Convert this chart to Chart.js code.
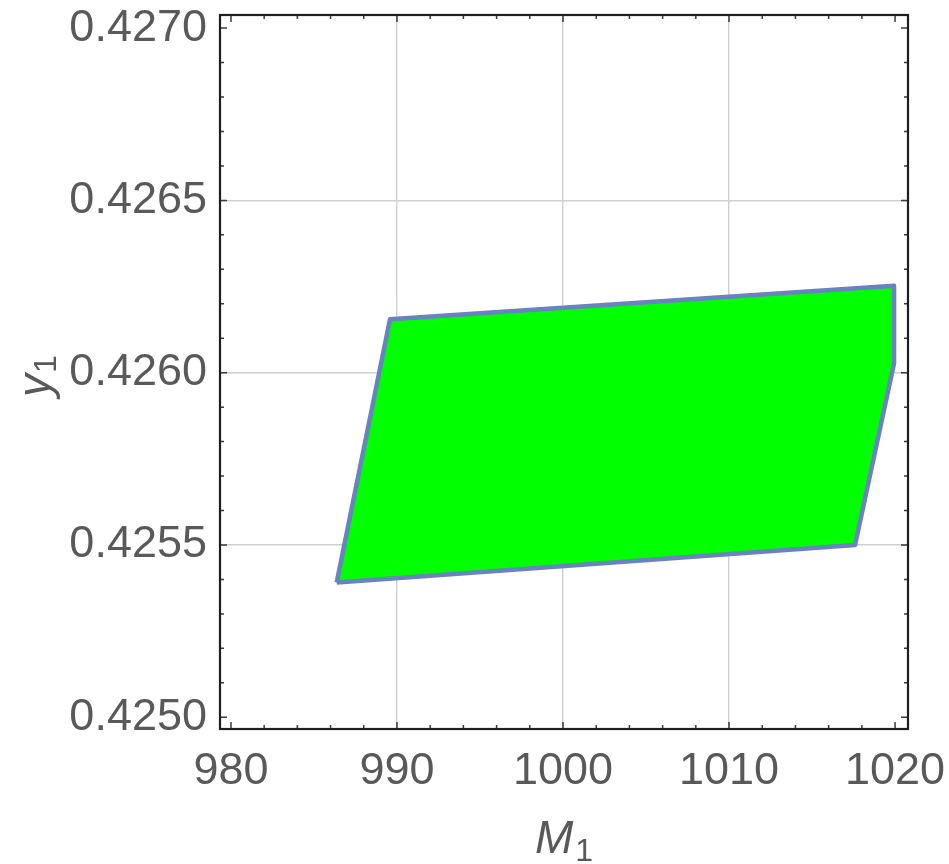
<!DOCTYPE html>
<html>
<head>
<meta charset="utf-8">
<script src="https://cdn.jsdelivr.net/npm/chart.js@4.4.1/dist/chart.umd.min.js"></script>
<style>
  html,body{margin:0;padding:0;background:#fff;}
  #wrap{width:949px;height:864px;}
</style>
</head>
<body>
<div id="wrap"><canvas id="c" width="949" height="864"></canvas></div>
<script>
// region boundary (M1, y1), closed
const regionM = [986.37, 989.58, 1019.94, 1019.94, 1017.59, 986.37];
const regionY = [0.425391, 0.426155, 0.426252, 0.426027, 0.425500, 0.425391];

const xTicks = [980, 990, 1000, 1010, 1020];
const yTicks = [0.4250, 0.4255, 0.4260, 0.4265, 0.4270];
const xMinorStep = 2;
const yMinorStep = 0.0001;

const xRange = [979.34, 1020.78];
const yRange = [0.424966, 0.427038];

const labelColor = "#595959";
const labelFont = "Liberation Sans, Arial, sans-serif";

// frame + inward ticks, mathematica style
const frameTicks = {
  id: "frameTicks",
  afterDatasetsDraw(chart){
    const {ctx, chartArea:a, scales:{x, y}} = chart;
    ctx.save();
    ctx.strokeStyle = "#3a3a3a";
    ctx.lineWidth = 1.5;
    const drawX = (v, len) => {
      const px = x.getPixelForValue(v);
      ctx.beginPath();
      ctx.moveTo(px, a.bottom); ctx.lineTo(px, a.bottom - len);
      ctx.moveTo(px, a.top); ctx.lineTo(px, a.top + len);
      ctx.stroke();
    };
    const drawY = (v, len) => {
      const py = y.getPixelForValue(v);
      ctx.beginPath();
      ctx.moveTo(a.left, py); ctx.lineTo(a.left + len, py);
      ctx.moveTo(a.right, py); ctx.lineTo(a.right - len, py);
      ctx.stroke();
    };
    for(let i = 0; i <= Math.round((xTicks[xTicks.length-1]-xTicks[0])/xMinorStep); i++){
      const v = xTicks[0] + i*xMinorStep;
      drawX(v, xTicks.includes(v) ? 7 : 4);
    }
    const yn = Math.round((yTicks[yTicks.length-1]-yTicks[0])/yMinorStep);
    for(let i = 0; i <= yn; i++){
      const v = yTicks[0] + i*yMinorStep;
      drawY(v, i % 5 === 0 ? 7 : 4);
    }
    ctx.strokeStyle = "#1e1e1e";
    ctx.lineWidth = 2.2;
    ctx.strokeRect(a.left, a.top, a.right - a.left, a.bottom - a.top);
    ctx.restore();
  }
};

// axis labels with subscripts
const axisLabels = {
  id: "axisLabels",
  afterDraw(chart){
    const {ctx, chartArea:a} = chart;
    ctx.save();
    ctx.fillStyle = labelColor;
    ctx.textBaseline = "alphabetic";
    ctx.textAlign = "left";
    const big = "italic 46px " + labelFont, small = "32px " + labelFont;
    // M1
    ctx.font = big; const wM = ctx.measureText("M").width;
    ctx.font = small; const w1 = ctx.measureText("1").width;
    let x0 = (a.left + a.right)/2 - (wM + w1 + 2)/2;
    ctx.font = big; ctx.fillText("M", x0, 853);
    ctx.font = small; ctx.fillText("1", x0 + wM + 2, 861);
    // y1 (rotated)
    ctx.translate(50, 376);
    ctx.rotate(-Math.PI/2);
    ctx.font = big; const wy = ctx.measureText("y").width;
    x0 = -(wy + w1 + 1)/2;
    ctx.fillText("y", x0, 0);
    ctx.font = small; ctx.fillText("1", x0 + wy + 1, 6);
    ctx.restore();
  }
};

const edge = (v, list) => v === list[0] || v === list[list.length-1];
const noPad = s => { s.paddingLeft = 0; s.paddingRight = 0; s.paddingTop = 0; s.paddingBottom = 0; };

new Chart(document.getElementById("c"), {
  type: "scatter",
  data: {
    datasets: [{
      data: regionM.map((m, i) => ({x: m, y: regionY[i]})),
      showLine: true,
      fill: "shape",
      backgroundColor: "#00ff00",
      borderColor: "#6982c0",
      borderWidth: 4.5,
      borderJoinStyle: "round",
      pointRadius: 0,
      tension: 0
    }]
  },
  options: {
    responsive: false,
    animation: false,
    layout: {padding: {top: 15, right: 41, left: 0, bottom: 0}},
    plugins: {legend: {display: false}, tooltip: {enabled: false}},
    scales: {
      x: {
        type: "linear",
        min: xRange[0], max: xRange[1],
        afterBuildTicks: s => { s.ticks = xTicks.map(v => ({value: v})); },
        afterFit: s => { s.height = 135; noPad(s); },
        grid: {
          drawTicks: false,
          lineWidth: 1.4,
          color: c => (c.tick && edge(c.tick.value, xTicks)) ? "rgba(0,0,0,0)" : "#cfcfcf"
        },
        border: {display: false},
        ticks: {
          padding: 16,
          color: labelColor,
          font: {family: labelFont, size: 45},
          callback: v => String(v)
        }
      },
      y: {
        type: "linear",
        min: yRange[0], max: yRange[1],
        afterBuildTicks: s => { s.ticks = yTicks.map(v => ({value: v})); },
        afterFit: s => { s.width = 220; noPad(s); },
        grid: {
          drawTicks: false,
          lineWidth: 1.4,
          color: c => (c.tick && edge(c.tick.value, yTicks)) ? "rgba(0,0,0,0)" : "#cfcfcf"
        },
        border: {display: false},
        ticks: {
          padding: 13,
          color: labelColor,
          font: {family: labelFont, size: 45},
          callback: v => Number(v).toFixed(4)
        }
      }
    }
  },
  plugins: [frameTicks, axisLabels]
});
</script>
</body>
</html>
